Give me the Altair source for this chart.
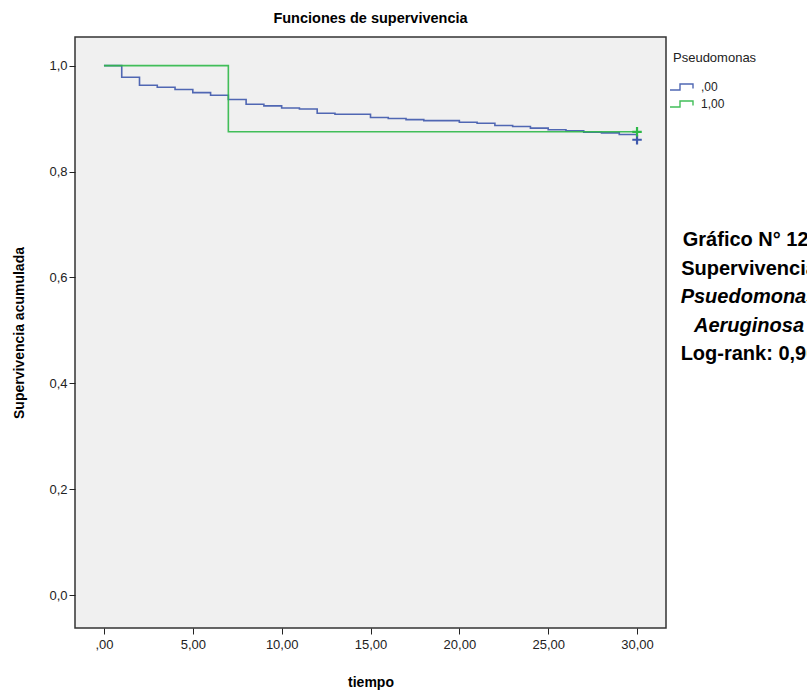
import altair as alt
import pandas as pd

# Kaplan-Meier step estimates per group (time, cumulative survival)
blue_time = [0, 1, 2, 3, 4, 5, 6, 7, 8, 9, 10, 11, 12, 13, 15, 16, 17, 18,
             20, 21, 22, 23, 24, 25, 26, 27, 28, 29, 30]
blue_surv = [1.0, 0.978, 0.963, 0.959, 0.955, 0.949, 0.944, 0.936, 0.927,
             0.924, 0.920, 0.918, 0.910, 0.908, 0.902, 0.900, 0.898, 0.896,
             0.893, 0.891, 0.887, 0.885, 0.882, 0.879, 0.877, 0.874, 0.873,
             0.870, 0.860]
green_time = [0, 7, 30]
green_surv = [1.0, 0.875, 0.875]

groups = [",00", "1,00"]
group_colors = ["#3E58AC", "#2EB848"]

# censored observations at end of follow-up
censor_group = [",00", "1,00"]
censor_time = [30, 30]
censor_surv = [0.860, 0.875]

side_lines = ["Gráfico N° 12:", "Supervivencia", "Psuedomonas", "Aeruginosa", "Log-rank: 0,96"]
side_italic = [False, False, True, True, False]

curves = pd.concat([
    pd.DataFrame({"grupo": groups[0], "tiempo": blue_time, "surv": blue_surv}),
    pd.DataFrame({"grupo": groups[1], "tiempo": green_time, "surv": green_surv}),
])
censors = pd.DataFrame({"grupo": censor_group, "tiempo": censor_time, "surv": censor_surv})

FONT = "Liberation Sans"

x_scale = alt.Scale(domain=[-1.63, 31.63], nice=False, zero=False)
y_scale = alt.Scale(domain=[-0.062, 1.054], nice=False, zero=False)
color_scale = alt.Scale(domain=groups, range=group_colors)

x_axis = alt.Axis(values=[0, 5, 10, 15, 20, 25, 30],
                  labelExpr="replace(format(datum.value, '.2f'), '.', ',') == '0,00' ? ',00' : replace(format(datum.value, '.2f'), '.', ',')",
                  title="tiempo", grid=False, domain=False, tickSize=6,
                  tickColor="#222", labelFontSize=13, labelColor="#222",
                  labelFont=FONT, labelPadding=4, titleFont=FONT,
                  titleFontSize=14, titleFontWeight="bold", titleColor="#000",
                  titlePadding=24)
y_axis = alt.Axis(values=[0, 0.2, 0.4, 0.6, 0.8, 1.0],
                  labelExpr="replace(format(datum.value, '.1f'), '.', ',')",
                  title="Supervivencia acumulada", grid=False, domain=False,
                  tickSize=6, tickColor="#222", labelFontSize=13,
                  labelColor="#222", labelFont=FONT, labelPadding=2,
                  titleFont=FONT, titleFontSize=14, titleFontWeight="bold",
                  titleColor="#000", titlePadding=22)

# small step-shaped legend glyph
step_path = "M-1.4,0.3H-0.4V-0.3H0.9V0.15"

lines = alt.Chart(curves).mark_line(
    interpolate="step-after", strokeWidth=1.6, opacity=0.9
).encode(
    x=alt.X("tiempo:Q", scale=x_scale, axis=x_axis),
    y=alt.Y("surv:Q", scale=y_scale, axis=y_axis),
    color=alt.Color("grupo:N", scale=color_scale,
                    legend=alt.Legend(title="Pseudomonas", orient="none",
                                      legendX=598, legendY=15,
                                      symbolType=step_path, symbolSize=400,
                                      symbolStrokeWidth=1.4,
                                      symbolFillColor="transparent",
                                      titleFont=FONT, titleFontSize=13,
                                      titleFontWeight="normal", titleColor="#222",
                                      labelFont=FONT, labelFontSize=12,
                                      labelColor="#222", rowPadding=0,
                                      titlePadding=11, labelOffset=6)),
    detail="grupo:N",
)

plus_marks = alt.Chart(censors).mark_point(
    shape="M-1,0H1M0,-1V1", size=90, strokeWidth=2.2, filled=False, opacity=1
).encode(
    x=alt.X("tiempo:Q", scale=x_scale),
    y=alt.Y("surv:Q", scale=y_scale),
    color=alt.Color("grupo:N", scale=color_scale, legend=None),
)

side_df = pd.DataFrame({"txt": side_lines, "italic": side_italic,
                        "row": list(range(len(side_lines)))})

# note block to the right of the plot, one line per row, 28.5 px apart
side_base = alt.Chart(side_df).transform_calculate(
    ypix="203 + datum.row * 28.5"
)

side_upright = side_base.transform_filter("!datum.italic").mark_text(
    font=FONT, fontSize=20, fontWeight="bold", align="center",
    baseline="middle", color="#000"
).encode(
    text="txt:N",
    x=alt.value(674),
    y=alt.Y("ypix:Q", scale=None),
)
side_italic_text = side_base.transform_filter("datum.italic").mark_text(
    font=FONT, fontSize=20, fontWeight="bold", fontStyle="italic",
    align="center", baseline="middle", color="#000"
).encode(
    text="txt:N",
    x=alt.value(674),
    y=alt.Y("ypix:Q", scale=None),
)

chart = alt.layer(lines, plus_marks, side_upright, side_italic_text).properties(
    width=591, height=591,
    title=alt.Title("Funciones de supervivencia", font=FONT, fontSize=14.5,
                    fontWeight="bold", color="#000", anchor="middle", offset=11),
    autosize=alt.AutoSizeParams(type="none"),
    padding={"left": 75, "top": 37, "right": 141, "bottom": 67},
    background="#FFFFFF",
).configure_view(
    fill="#F0F0F0", stroke="#333", strokeWidth=1.5
)

chart.save("out.html", embed_options={"renderer": "svg", "actions": False})
